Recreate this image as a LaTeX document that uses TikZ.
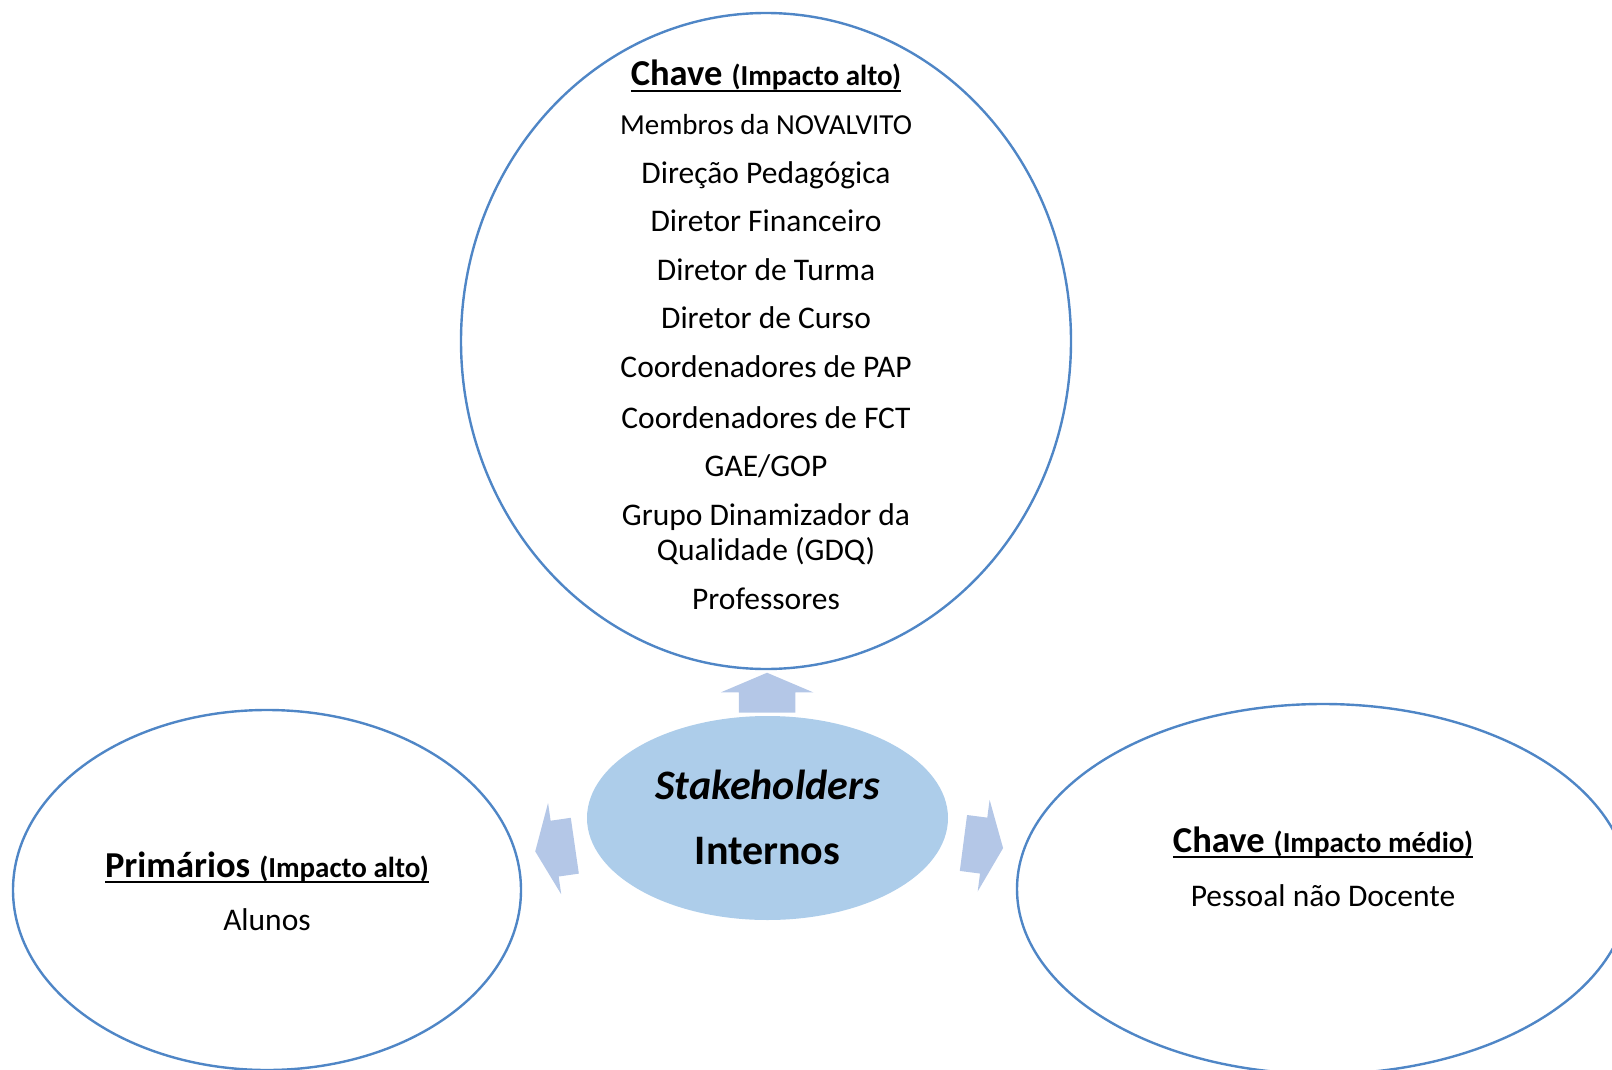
\documentclass[tikz,border=0pt]{standalone}
\usepackage{fontspec}
\setmainfont{Carlito}
\usetikzlibrary{shapes.geometric,shapes.arrows,calc,positioning}

\definecolor{contorno}{HTML}{4F86C6}
\definecolor{corcentro}{HTML}{ADCDEA}
\definecolor{corseta}{HTML}{B4C7E7}

% underline drawn under the descenders, like the original
\newsavebox\caixa
\newcommand{\sublinha}[1]{\sbox\caixa{#1}\rlap{\rule[-6pt]{\wd\caixa}{2pt}}\usebox\caixa}
\newcommand{\titulo}[2]{\sublinha{\bfseries\fontsize{36.5}{40}\selectfont #1\hspace{9pt}\fontsize{29}{34}\selectfont #2}}

\begin{document}
\begin{tikzpicture}[x=1pt,y=-1pt,
  circulo/.style={ellipse, draw=contorno, line width=2.4pt, inner sep=0pt},
  hubbox/.style={ellipse, fill=corcentro, inner sep=0pt,
                 minimum width=361pt, minimum height=204pt},
  seta/.style={single arrow, fill=corseta, inner sep=0pt, inner ysep=28pt,
               single arrow head extend=18pt, single arrow tip angle=134,
               minimum height=40pt, minimum width=1pt, anchor=tip},
  texto/.style={anchor=base, inner sep=0pt, font=\fontsize{31.5}{36}\selectfont},
  grande/.style={anchor=base, inner sep=0pt, font=\bfseries\fontsize{42}{48}\selectfont}]

\useasboundingbox (0,0) rectangle (1612,1070);

% the three groups
\node[circulo, minimum width=610pt, minimum height=656pt] (chave) at (766,341) {};
\node[circulo, minimum width=508pt, minimum height=360pt] (prim) at (267,890) {};
\node[circulo, minimum width=612pt, minimum height=370pt] (medio) at (1323,889) {};

% centre
\node[hubbox] (hub) at (767.5,818) {};
\node[grande] (stake) at (767.5,799) {\itshape Stakeholders};
\node[grande] (intern) at (767.5,864) {Internos};

% arrows out of the centre
\node[seta, rotate=90] (setacima) at ($(hub.center)!0.305!(chave.center)$) {};
\node[seta, rotate=188.2] (setaesq) at ($(hub.center)!0.4645!(prim.center)$) {};
\node[seta, rotate=-7.4] (setadir) at ($(hub.center)!0.4245!(medio.center)$) {};

% Chave (Impacto alto)
\node[texto] (tchave) at (766,86) {\titulo{Chave}{(Impacto alto)}};
\node[texto, font=\fontsize{29}{34}\selectfont] (membros) at (766,135) {Membros da NOVALVITO};
\foreach \y/\txt [count=\i] in {183/Direção Pedagógica, 231.5/Diretor Financeiro,
    280/Diretor de Turma, 328.5/Diretor de Curso, 377/Coordenadores de PAP,
    428/Coordenadores de FCT, 476/{GAE/GOP}, 525/Grupo Dinamizador da,
    560/Qualidade (GDQ), 609/Professores}
  \node[texto] (item\i) at (766,\y) {\txt};

% Primarios (Impacto alto)
\node[texto] (tprim) at (267,877) {\titulo{Primários}{(Impacto alto)}};
\node[texto] (alunos) at (267,930) {Alunos};

% Chave (Impacto medio)
\node[texto] (tmedio) at (1323,852) {\titulo{Chave}{(Impacto médio)}};
\node[texto] (pessoal) at (1323,906) {Pessoal não Docente};

\end{tikzpicture}
\end{document}
